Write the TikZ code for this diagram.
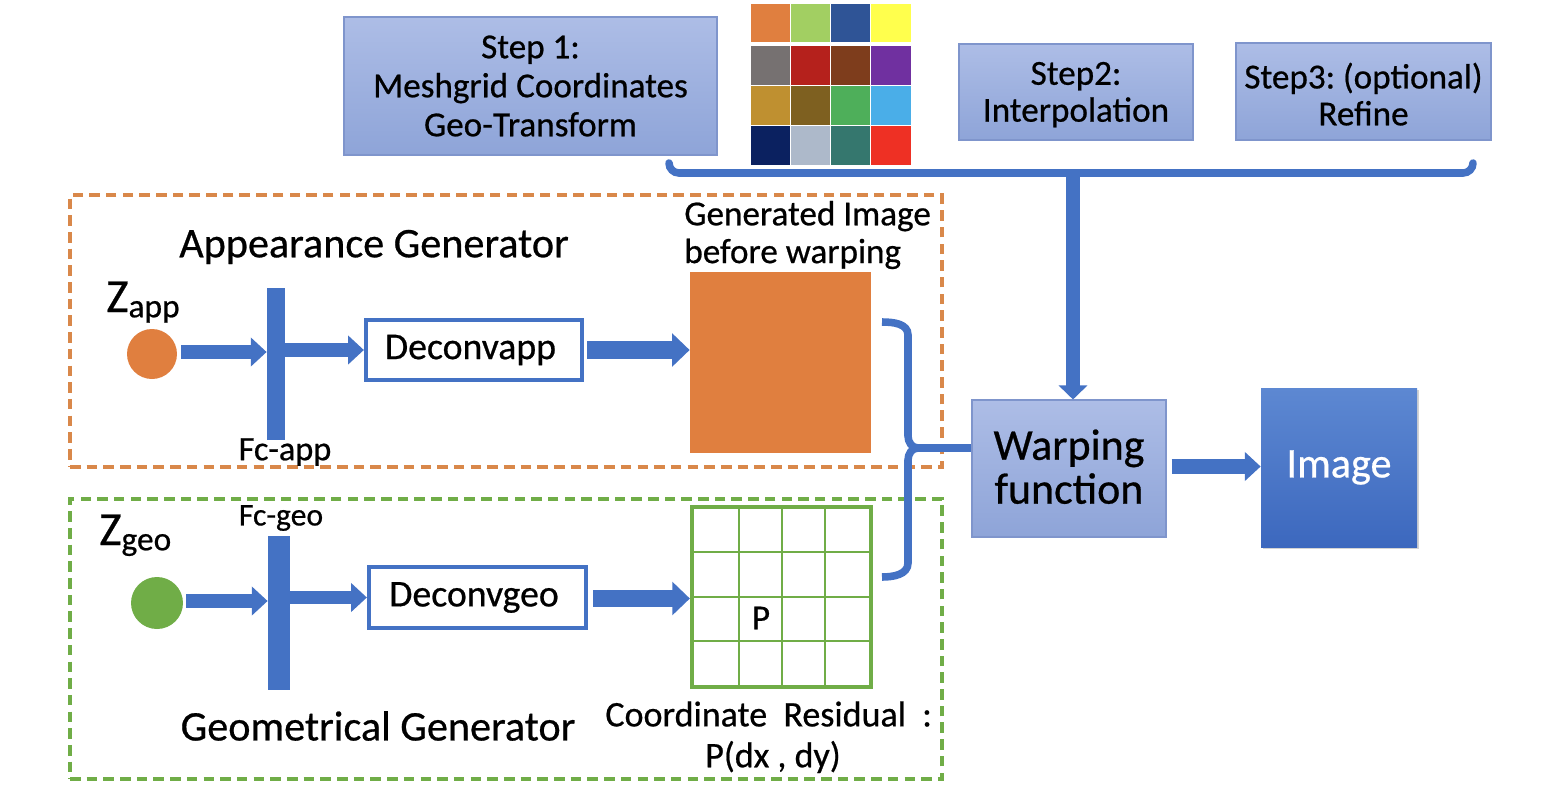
\documentclass[tikz,border=0pt]{standalone}
\usepackage{fontspec}
\setmainfont{Carlito}[FakeBold=0.6]
\usetikzlibrary{arrows.meta,fit,shadows}
\definecolor{bl}{HTML}{4472C4}
\definecolor{stepT}{HTML}{ADBDE6}
\definecolor{stepB}{HTML}{8EA4D8}
\definecolor{stepD}{HTML}{7F95CC}
\definecolor{org}{HTML}{E07F3F}
\definecolor{orgD}{HTML}{D9884A}
\definecolor{grn}{HTML}{70AD47}
\definecolor{imgT}{HTML}{5D88D2}
\definecolor{imgB}{HTML}{3C68BE}
\tikzset{
  stepbox/.style={inner sep=0pt, draw=stepD, line width=0.6pt, top color=stepT, bottom color=stepB},
  dashbox/.style={draw=#1, line width=1.9pt, dash pattern=on 6pt off 3.5pt},
  blockarr/.style={draw=bl, line width=7.5pt, -{Triangle[width=16pt,length=9pt]}},
  bigarr/.style={draw=bl, line width=10pt, -{Triangle[width=18.5pt,length=10pt]}},
  brk/.style={draw=bl, line width=4.3pt, line cap=round},
  lbl/.style={inner sep=0pt, text=black, align=center},
}
\frenchspacing
\begin{document}
\begin{tikzpicture}[x=0.02cm,y=-0.02cm]
\useasboundingbox (0,0) rectangle (1554,788);

% ---- step boxes
\node[fit={(344,17)(717,155)}, stepbox] (s1) {};
\node[lbl, font=\fontsize{20}{22.2}\selectfont] (s1t) at ([yshift=0pt]s1.center) {Step 1:\\Meshgrid Coordinates\\Geo-Transform};
\node[fit={(959,44)(1193,140)}, stepbox] (s2) {};
\node[lbl, font=\fontsize{20}{21}\selectfont] (s2t) at ([yshift=-1.5pt]s2.center) {Step2:\\Interpolation};
\node[fit={(1236,43)(1491,140)}, stepbox] (s3) {};
\node[lbl, font=\fontsize{20}{21}\selectfont] (s3t) at ([yshift=-1.5pt]s3.center) {Step3: (optional)\\Refine};

% ---- colour grid
\foreach \c [count=\i from 0] in {E07F3F,A2CF62,2F5496,FFFF4D}
  {\definecolor{tmp}{HTML}{\c}\fill[tmp,draw=white,line width=0.4pt] (750+\i*40.25,3) rectangle ++(40.25,39);}
\foreach \c [count=\i from 0] in {767171,B5211C,7E3D1C,7030A0}
  {\definecolor{tmp}{HTML}{\c}\fill[tmp,draw=white,line width=0.4pt] (750+\i*40.25,45) rectangle ++(40.25,40);}
\foreach \c [count=\i from 0] in {BF9030,7E6020,4EAF5A,4AAEE8}
  {\definecolor{tmp}{HTML}{\c}\fill[tmp,draw=white,line width=0.4pt] (750+\i*40.25,85) rectangle ++(40.25,40);}
\foreach \c [count=\i from 0] in {0B2160,ADB9CA,35776E,EE3024}
  {\definecolor{tmp}{HTML}{\c}\fill[tmp,draw=white,line width=0.4pt] (750+\i*40.25,125) rectangle ++(40.25,40);}

% ---- dashed generator frames
\node[fit={(70,195)(942,467)}, dashbox=orgD, inner sep=0pt] (appframe) {};
\node[fit={(70,499)(942,779)}, dashbox=grn, inner sep=0pt] (geoframe) {};

% ---- warping and image
\node[fit={(972,400)(1166,537)}, stepbox] (warp) {};
\node[lbl, font=\fontsize{25}{25}\selectfont] (warpt) at ([yshift=1pt]warp.center) {Warping\\function};
\node[fit={(1261,388)(1417,547)}, inner sep=0pt, top color=imgT, bottom color=imgB, draw=none,
      drop shadow={shadow xshift=1.2pt,shadow yshift=-1.2pt,opacity=0.35}] (img) {};
\node[lbl, text=white, font=\fontsize{24}{24}\selectfont] (imgt) at ([yshift=0pt]img.center) {Image};

% ---- top bracket and arrow down
\coordinate (bl) at (669,163);
\coordinate (br) at (1473,163);
\coordinate (brtop) at (1073,173);
\draw[brk] (bl) to[out=-90,in=180] (679,173) -- (1463,173) to[out=0,in=-90] (br);
\draw[draw=bl, line width=8pt, -{Triangle[width=16pt,length=8pt]}] (brtop) -- (brtop |- warp.north);

% ---- appearance branch
\node[lbl, font=\fontsize{24}{24}\selectfont] (apptitle) at (374,247) {Appearance Generator};
\node[circle, minimum size=1cm, inner sep=0pt, fill=org] (zapp) at (152,354) {};
\node[lbl, anchor=base west] (zapplbl) at (106,312) {\fontsize{27}{27}\selectfont Z\raisebox{-3pt}{\fontsize{19}{19}\selectfont app}};
\node[fit={(267,288)(285,440)}, inner sep=0pt, fill=bl] (fcapp) {};
\node[lbl, font=\fontsize{19.5}{19.5}\selectfont] (fcapplbl) at (285,452) {Fc-app};
\node[fit={(366,320)(582,380)}, inner sep=0pt, draw=bl, line width=2.4pt, fill=white] (dapp) {};
\node[lbl, font=\fontsize{21.5}{21.5}\selectfont] (dappt) at ([xshift=-2pt]dapp.center) {Deconvapp};
\node[fit={(690,272)(871,453)}, inner sep=0pt, fill=org] (gimg) {};
\node[lbl, anchor=west, align=left, font=\fontsize{20}{21.5}\selectfont] (gimglbl) at (684,235) {Generated Image\\before warping};

\draw[blockarr] (zapp.east) ++(4,-2) coordinate (za) -- (za -| fcapp.west);
\draw[blockarr] (fcapp.east |- dapp.west) -- (dapp.west);
\draw[bigarr] (dapp.east) ++(3,0) coordinate (da) -- (da -| gimg.west);

% ---- geometrical branch
\node[circle, minimum width=1cm, minimum height=1.04cm, inner sep=0pt, fill=grn] (zgeo) at (157,603) {};
\node[lbl, anchor=base west] (zgeolbl) at (99,545) {\fontsize{27}{27}\selectfont Z\raisebox{-3pt}{\fontsize{19}{19}\selectfont geo}};
\node[fit={(268,536)(290,690)}, inner sep=0pt, fill=bl] (fcgeo) {};
\node[lbl, font=\fontsize{18}{18}\selectfont] (fcgeolbl) at (281,518) {Fc-geo};
\node[fit={(369,567)(586,628)}, inner sep=0pt, draw=bl, line width=2.4pt, fill=white] (dgeo) {};
\node[lbl, font=\fontsize{21.5}{21.5}\selectfont] (dgeot) at ([xshift=-2pt]dgeo.center) {Deconvgeo};
\node[fit={(692,507)(871,687)}, inner sep=0pt, draw=grn, line width=2.4pt] (grid) {};
\foreach \xx in {739,782,825} \draw[grn, line width=1.3pt] (\xx,507) -- (\xx,687);
\foreach \yy in {552,597,641} \draw[grn, line width=1.3pt] (692,\yy) -- (871,\yy);
\node[lbl, font=\fontsize{20}{20}\selectfont] (plbl) at (761,618) {P};
\node[lbl, font=\fontsize{24}{24}\selectfont] (geotitle) at (378,726) {Geometrical Generator};
\node[lbl, anchor=west, font=\fontsize{20.5}{20.5}\selectfont] (resid) at (605,714) {Coordinate\ \ Residual\ \ :};
\node[lbl, font=\fontsize{20.5}{20.5}\selectfont] (pdxdy) at (773,757) {P(dx , dy)};

\draw[blockarr] (zgeo.east) ++(3,-2) coordinate (zg) -- (zg -| fcgeo.west);
\draw[blockarr] (fcgeo.east |- dgeo.west) -- (dgeo.west);
\draw[bigarr] (dgeo.east) ++(5,1) coordinate (dg) -- (dg -| grid.west);

% ---- right brace to warping
\coordinate (btop) at (882,322);
\coordinate (bbot) at (882,577);
\coordinate (bmid) at (918,448);
\draw[brk, line cap=butt] (btop) to[out=0,in=90] (908,335) -- (908,436) to[out=-90,in=180] (bmid) to[out=180,in=90] (908,460) -- (908,563) to[out=-90,in=0] (bbot);
\draw[brk, line cap=butt] (bmid) -- (bmid -| warp.west);

% ---- warping to image
\draw[draw=bl, line width=8pt, -{Triangle[width=16pt,length=9pt]}] (warp.east) ++(5,-2) coordinate (wa) -- (wa -| img.west);
\end{tikzpicture}
\end{document}
